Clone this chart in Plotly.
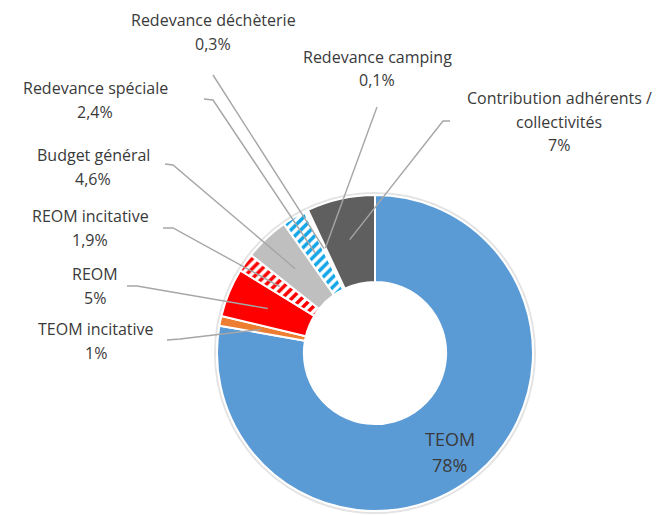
import math
import plotly.graph_objects as go

# ---- data ----
categories = ["TEOM", "TEOM incitative", "REOM", "REOM incitative", "Budget général",
              "Redevance spéciale", "Redevance déchèterie", "Redevance camping",
              "Contribution adhérents / collectivités"]
values = [78, 1, 5, 1.9, 4.6, 2.4, 0.3, 0.1, 7]
pct_labels = ["78%", "1%", "5%", "1,9%", "4,6%", "2,4%", "0,3%", "0,1%", "7%"]
label_lines = [["TEOM"], ["TEOM incitative"], ["REOM"], ["REOM incitative"], ["Budget général"],
               ["Redevance spéciale"], ["Redevance déchèterie"], ["Redevance camping"],
               ["Contribution adhérents /", "collectivités"]]

# ---- style / layout ----
OFF = 8                      # page body margin
W, H = 665 - OFF, 515 - OFF  # figure size
colors = ["#5B9BD5", "#ED7D31", "#FF0000", "#FFFFFF", "#BFBFBF", "#FFFFFF", "#FFFFFF", "#FFFFFF", "#5F5F5F"]
pat_shapes = ["", "", "", "/", "", "/", "", "", ""]
pat_fg = ["#FFFFFF", "#FFFFFF", "#FFFFFF", "#FF0000", "#FFFFFF", "#12A5E8", "#FFFFFF", "#FFFFFF", "#FFFFFF"]
CX, CY, R = 375, 353, 158   # pixel geometry of the donut (window coords)
HOLE = 0.45
TEXT_COLOR = "#3A3A3A"
LINE_COLOR = "#A6A6A6"
FONT = "Open Sans"
FS = 16
LINE_H = 23.5

# label placement: (center x, first line center y, leader start pts) in window pixels
label_pos = {
    "TEOM incitative": (96, 329, [(167, 340), (180, 339)]),
    "REOM": (95, 274, [(127, 286), (137, 286)]),
    "REOM incitative": (90, 216, [(163, 228), (173, 228)]),
    "Budget général": (93, 155, [(165, 164), (173, 165)]),
    "Redevance spéciale": (95, 88, [(204, 99), (213, 100)]),
    "Redevance déchèterie": (213, 20, [(213, 75)]),
    "Redevance camping": (377, 57, [(377, 107)]),
    "Contribution adhérents / collectivités": (559, 98, [(450, 121), (443, 121)]),
}


def px(x):
    return (x - OFF) / W


def py(y):
    return 1 - (y - OFF) / H


total = sum(values)

fig = go.Figure()
fig.add_trace(go.Pie(
    labels=categories, values=values, sort=False, direction="clockwise", rotation=0,
    hole=HOLE, textinfo="none", hoverinfo="label+percent",
    marker=dict(colors=colors, line=dict(color="white", width=2),
                pattern=dict(shape=pat_shapes, fgcolor=pat_fg, bgcolor=colors,
                             size=7, solidity=0.5, fillmode="overlay", fgopacity=1)),
    domain=dict(x=[px(CX - R), px(CX + R)], y=[py(CY + R), py(CY - R)]),
    showlegend=False,
))

shapes = []
annotations = []
cum = 0.0
for cat, v, pl, lines in zip(categories, values, pct_labels, label_lines):
    mid = (cum + v / 2) / total
    cum += v
    ang = 2 * math.pi * mid
    rt = R * 0.735
    tx = CX + rt * math.sin(ang)
    ty = CY - rt * math.cos(ang)
    all_lines = lines + [pl]
    if cat == "TEOM":
        for i, t in enumerate(all_lines):
            annotations.append(dict(x=px(tx), y=py(ty - 3 + i * 26), xref="paper", yref="paper",
                                    text=t, showarrow=False, xanchor="center", yanchor="middle",
                                    font=dict(family=FONT, size=18, color=TEXT_COLOR)))
        continue
    lx, ly, pts = label_pos[cat]
    for i, t in enumerate(all_lines):
        annotations.append(dict(x=px(lx), y=py(ly + i * LINE_H), xref="paper", yref="paper",
                                text=t, showarrow=False, xanchor="center", yanchor="middle",
                                font=dict(family=FONT, size=FS, color=TEXT_COLOR)))
    path_pts = pts + [(tx, ty)]
    path = "M " + " L ".join(f"{px(a)},{py(b)}" for a, b in path_pts)
    shapes.append(dict(type="path", path=path, xref="paper", yref="paper",
                       line=dict(color=LINE_COLOR, width=1.4), layer="above"))

# subtle shadow ring
shapes.insert(0, dict(type="circle", xref="paper", yref="paper",
                      x0=px(CX - R - 2), x1=px(CX + R + 2), y0=py(CY + R + 2), y1=py(CY - R - 2),
                      line=dict(color="#E3E3E3", width=2), layer="below"))

fig.update_layout(
    width=W, height=H, margin=dict(l=0, r=0, t=0, b=0),
    paper_bgcolor="white", plot_bgcolor="white",
    shapes=shapes, annotations=annotations,
)
fig.write_html("out.html")
